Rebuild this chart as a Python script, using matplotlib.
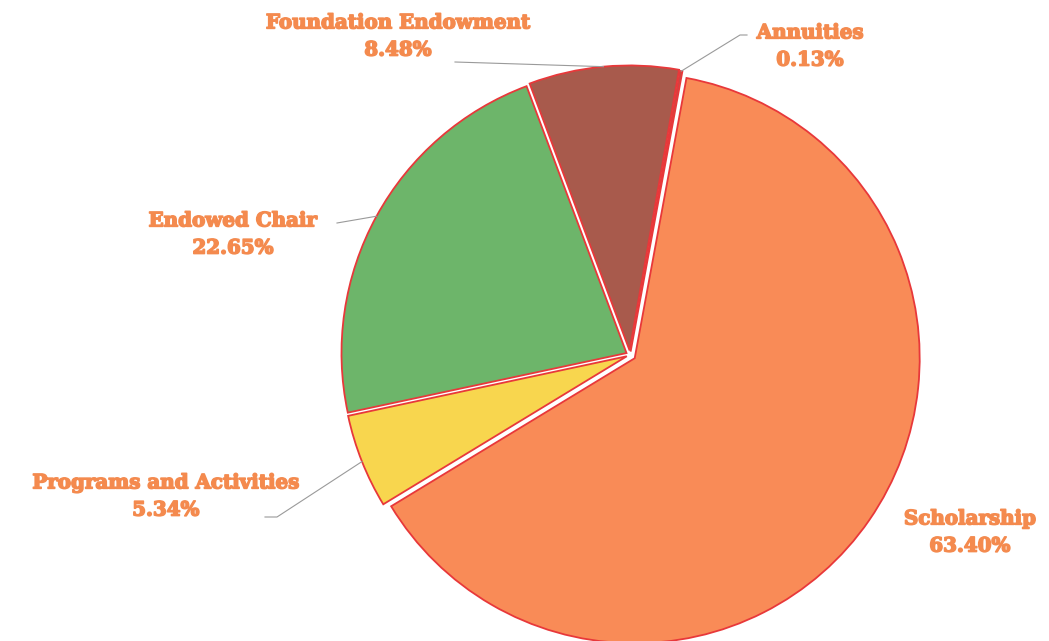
import numpy as np
import matplotlib.pyplot as plt
import matplotlib.patheffects as pe

# Данные (по часовой стрелке, начиная сверху)
labels = ['Annuities', 'Scholarship', 'Programs and Activities', 'Endowed Chair', 'Foundation Endowment']
values = [0.13, 63.40, 5.34, 22.65, 8.48]
colors = ['#A85A4C', '#F98B57', '#F8D64E', '#6DB56A', '#A85A4C']
explode = [0.012, 0.02, 0.012, 0.014, 0.016]

# Позиции подписей в пикселях (центр текста) и точка излома линии
label_px = {
    'Annuities': (810, 46),
    'Scholarship': (970, 532),
    'Programs and Activities': (166, 496),
    'Endowed Chair': (233, 234),
    'Foundation Endowment': (398, 36),
}
elbow_px = {
    'Annuities': [(747, 35), (740, 35)],
    'Scholarship': None,
    'Programs and Activities': [(265, 517), (277, 517)],
    'Endowed Chair': [(337, 223)],
    'Foundation Endowment': [(455, 62)],
}

W, H = 1049, 641
cx, cy, R = 630, 355, 285
text_color = '#F48A4E'


def px(p):
    """Пиксели -> координаты данных."""
    return ((p[0] - cx) / R, (cy - p[1]) / R)


fig = plt.figure(figsize=(W / 100, H / 100), dpi=100)
ax = fig.add_axes([0, 0, 1, 1])

wedges, _ = ax.pie(values, colors=colors, startangle=80, counterclock=False,
                   explode=explode, radius=1.0,
                   wedgeprops=dict(edgecolor='#E8383A', linewidth=1.3))

for w, lab, v in zip(wedges, labels, values):
    tx, ty = px(label_px[lab])
    ax.text(tx, ty, f"{lab}\n{v:.2f}%", ha='center', va='center',
            fontsize=14.3, fontweight='bold', family='DejaVu Serif',
            color=text_color, linespacing=1.45,
            path_effects=[pe.withStroke(linewidth=1.1, foreground=text_color)])
    if elbow_px[lab] is None:
        continue
    mid = np.deg2rad((w.theta1 + w.theta2) / 2)
    ox, oy = w.center
    ex, ey = ox + w.r * np.cos(mid), oy + w.r * np.sin(mid)
    pts = [px(p) for p in elbow_px[lab]] + [(ex, ey)]
    ax.plot([p[0] for p in pts], [p[1] for p in pts], color='#9A9A9A', lw=0.8)

ax.set_xlim(-cx / R, (W - cx) / R)
ax.set_ylim((cy - H) / R, cy / R)
ax.set_aspect('auto')
ax.axis('off')

plt.savefig('out.png', dpi=100)
